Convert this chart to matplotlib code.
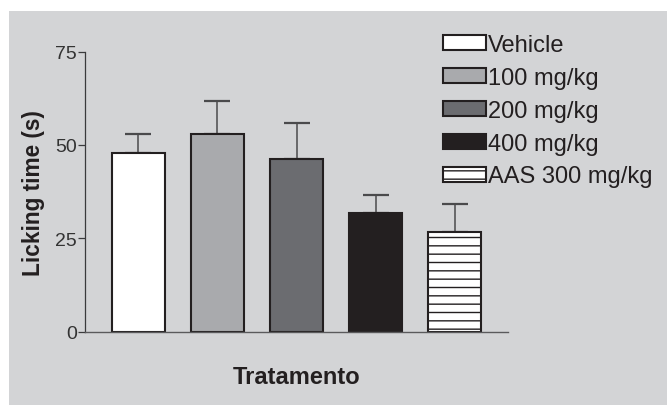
import matplotlib.pyplot as plt
from matplotlib.patches import Rectangle

plt.rcParams['font.family'] = ['Liberation Sans', 'DejaVu Sans']
plt.rcParams['hatch.linewidth'] = 1.0

# dati
groups = ["Vehicle", "100 mg/kg", "200 mg/kg", "400 mg/kg", "AAS 300 mg/kg"]
means = [47.8, 52.9, 46.1, 31.7, 26.8]
errs = [5.0, 8.9, 9.8, 4.9, 7.4]
colors = ["#ffffff", "#a9aaad", "#6b6c70", "#231f20", "#ffffff"]
hatches = ["", "", "", "", "--"]

BG = "#d3d4d6"
INK = "#231f20"

fig = plt.figure(figsize=(6.67, 4.06), dpi=100)
fig.patches.append(Rectangle((9 / 667, 0), 1, 1 - 12 / 406, transform=fig.transFigure,
                             facecolor=BG, edgecolor="none", zorder=-10))
ax = fig.add_axes([85 / 667, (406 - 332.7) / 406, 423 / 667, 280.2 / 406])
ax.set_facecolor("none")

x = list(range(len(groups)))
bars = ax.bar(x, means, width=0.67, color=colors, edgecolor=INK, linewidth=1.5,
              hatch=hatches, label=groups, zorder=2)
ax.errorbar(x, means, yerr=[[0] * len(errs), errs], fmt="none", ecolor="#4a4a4c",
            elinewidth=1.1, capsize=9.5, capthick=1.6, zorder=1)

ax.set_xlim(-0.67, 4.67)
ax.set_ylim(0, 75)
ax.set_yticks([0, 25, 50, 75])
ax.set_xticks([])
ax.spines["top"].set_visible(False)
ax.spines["right"].set_visible(False)
ax.spines["left"].set_bounds(0, 75)
ax.spines["left"].set_color("#3a3a3c")
ax.spines["bottom"].set_color("#5a5a5c")
ax.spines["left"].set_linewidth(0.9)
ax.spines["bottom"].set_linewidth(1.0)
ax.tick_params(axis="y", length=5, width=0.9, color="#3a3a3c", pad=1,
               labelsize=14, labelcolor="#333333")

ax.set_ylabel("Licking time (s)", fontsize=16.3, fontweight="bold", color=INK, labelpad=7)
ax.set_xlabel("Tratamento", fontsize=17, fontweight="bold", color=INK, labelpad=24)

ax.legend(handles=bars, labels=groups, loc="upper left",
          bbox_to_anchor=(443 / 667, (406 - 35) / 406), bbox_transform=fig.transFigure,
          frameon=False, fontsize=17, handlelength=1.82, handleheight=0.6,
          handletextpad=0.1, labelspacing=0.46, borderpad=0, borderaxespad=0,
          labelcolor=INK)

fig.savefig("out.png", dpi=100)
